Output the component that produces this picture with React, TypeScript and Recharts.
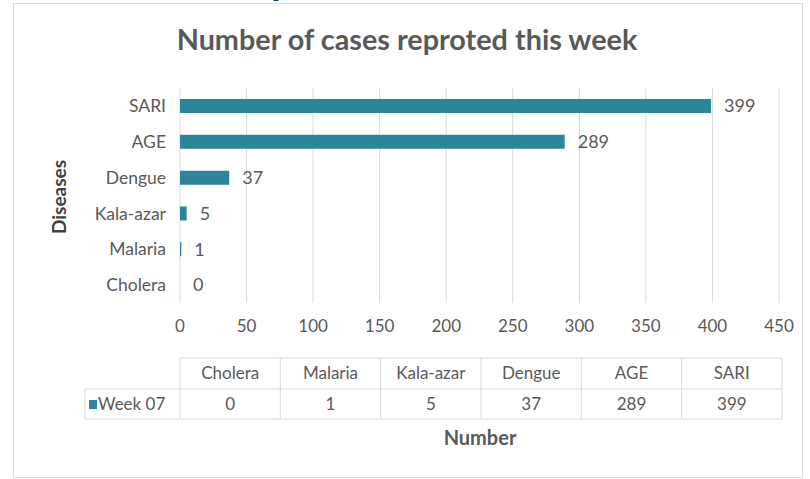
import { BarChart, Bar, XAxis, YAxis, CartesianGrid, ReferenceDot } from "recharts";

const diseases = ["Cholera", "Malaria", "Kala-azar", "Dengue", "AGE", "SARI"];
const week07 = [0, 1, 5, 37, 289, 399];
const xTicks = [0, 50, 100, 150, 200, 250, 300, 350, 400, 450];
const seriesName = "Week 07";

const W = 810;
const H = 479;
const PLOT_LEFT = 180;
const PLOT_RIGHT = 779;
const PLOT_TOP = 88;
const PLOT_BOTTOM = 303;
const Y_AXIS_W = 110;
const X_AXIS_H = 30;

const BAR = "#2b8699";
const TEXT = "#595959";
const GRID = "#d9d9d9";
const FONT = "Lato, 'Open Sans', sans-serif";

const data = diseases.map((name, i) => ({ name, value: week07[i] }));

function Overlay() {
  const tableLeft = PLOT_LEFT;
  const tableRight = 782;
  const colW = (tableRight - tableLeft) / diseases.length;
  const top = 358;
  const mid = 389;
  const bottom = 419;
  const legendLeft = 85;
  return (
    <svg
      width={W}
      height={H}
      style={{ position: "absolute", left: 0, top: 0, pointerEvents: "none" }}
      fontFamily={FONT}
    >
      <rect x={13.5} y={3.5} width={789} height={474} fill="none" stroke={GRID} />
      <text
        x={273}
        y={-4}
        fill="#1f3f7a"
        fontFamily="'Liberation Serif', serif"
        fontWeight="bold"
        fontSize={20}
      >
        p
      </text>
      <text
        x={407}
        y={50}
        textAnchor="middle"
        fill={TEXT}
        fontSize={28.8}
        fontWeight="bold"
      >
        Number of cases reproted this week
      </text>
      <text
        x={0}
        y={0}
        transform="translate(66,197) rotate(-90)"
        textAnchor="middle"
        fill="#404040"
        fontSize={19}
        fontWeight="bold"
      >
        Diseases
      </text>
      <text x={480} y={445} textAnchor="middle" fill={TEXT} fontSize={20} fontWeight="bold">
        Number
      </text>

      {/* data table */}
      <g stroke={GRID} fill="none">
        <line x1={tableLeft} y1={top} x2={tableRight} y2={top} />
        <line x1={legendLeft} y1={mid} x2={tableRight} y2={mid} />
        <line x1={legendLeft} y1={bottom} x2={tableRight} y2={bottom} />
        <line x1={legendLeft} y1={mid} x2={legendLeft} y2={bottom} />
        {diseases.map((_, i) => (
          <line key={i} x1={tableLeft + i * colW} y1={top} x2={tableLeft + i * colW} y2={bottom} />
        ))}
        <line x1={tableRight} y1={top} x2={tableRight} y2={bottom} />
      </g>
      {diseases.map((d, i) => (
        <text
          key={d}
          x={tableLeft + (i + 0.5) * colW}
          y={top + 21}
          textAnchor="middle"
          fill={TEXT}
          fontSize={17}
        >
          {d}
        </text>
      ))}
      {week07.map((v, i) => (
        <text
          key={i}
          x={tableLeft + (i + 0.5) * colW}
          y={mid + 21}
          textAnchor="middle"
          fill={TEXT}
          fontSize={17}
        >
          {v}
        </text>
      ))}
      <rect x={89} y={400} width={8} height={9} fill={BAR} />
      <text x={98} y={mid + 21} fill={TEXT} fontSize={17}>
        {seriesName}
      </text>
    </svg>
  );
}

export default function App() {
  return (
    <div style={{ position: "fixed", left: 0, top: 0, width: W, height: H, background: "#fff" }}>
      <BarChart
        width={W}
        height={H}
        data={data}
        layout="vertical"
        barCategoryGap="60%"
        margin={{
          top: PLOT_TOP,
          right: W - PLOT_RIGHT,
          left: PLOT_LEFT - Y_AXIS_W,
          bottom: H - PLOT_BOTTOM - X_AXIS_H,
        }}
      >
        <CartesianGrid horizontal={false} stroke={GRID} />
        <XAxis
          type="number"
          domain={[0, 450]}
          ticks={xTicks}
          height={X_AXIS_H}
          axisLine={false}
          tickLine={false}
          tickMargin={11}
          tick={{ fill: TEXT, fontSize: 17, fontFamily: FONT }}
          interval={0}
        />
        <YAxis
          type="category"
          dataKey="name"
          reversed
          width={Y_AXIS_W}
          axisLine={false}
          tickLine={false}
          tickMargin={8}
          tick={{ fill: TEXT, fontSize: 17.5, fontFamily: FONT }}
          interval={0}
        />
        <Bar dataKey="value" name={seriesName} fill={BAR} barSize={14} isAnimationActive={false} />
        {/* value labels, placed through the chart scales (a zero bar gets no LabelList entry) */}
        {data.map((d) => (
          <ReferenceDot
            key={d.name}
            x={d.value}
            y={d.name}
            r={1}
            fill="none"
            stroke="none"
            label={{
              value: d.value,
              position: "right",
              offset: 12,
              fill: TEXT,
              fontSize: 18,
              fontFamily: FONT,
            }}
          />
        ))}
      </BarChart>
      <Overlay />
    </div>
  );
}
